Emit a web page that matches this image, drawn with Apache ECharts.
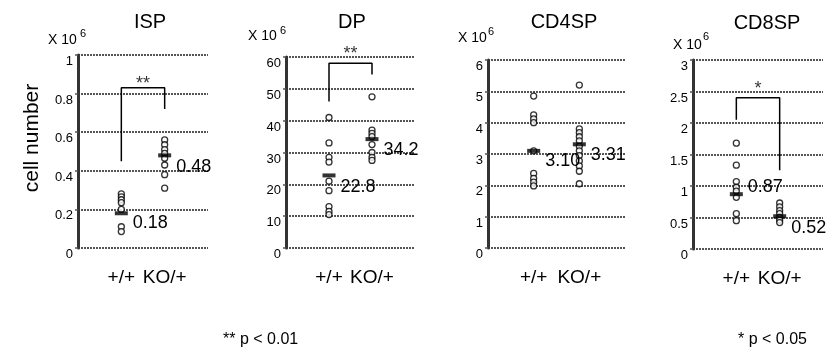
<!DOCTYPE html>
<html>
<head>
<meta charset="utf-8">
<script src="https://cdn.jsdelivr.net/npm/echarts@6/dist/echarts.min.js"></script>
<style>
  html, body { margin: 0; padding: 0; background: #fff; }
  #main { width: 833px; height: 356px; }
</style>
</head>
<body>
<div id="main"></div>
<script>
var chart = echarts.init(document.getElementById('main'));

// data
const groups = ['+/+', 'KO/+'];
const panels = ['ISP', 'DP', 'CD4SP', 'CD8SP'];

const ispWT = [0.28, 0.265, 0.25, 0.235, 0.2, 0.11, 0.085];
const ispKO = [0.56, 0.535, 0.51, 0.49, 0.465, 0.43, 0.38, 0.31];
const dpWT = [41, 33, 28.5, 27, 21, 18, 13, 11.5, 10.5];
const dpKO = [47.5, 37, 36, 35, 32.5, 30, 28.5, 27.5];
const cd4WT = [4.85, 4.25, 4.12, 4.0, 3.1, 2.38, 2.22, 2.1, 1.98];
const cd4KO = [5.2, 3.8, 3.68, 3.55, 3.42, 3.25, 3.1, 2.95, 2.78, 2.62, 2.45, 2.05];
const cd8WT = [1.68, 1.33, 1.07, 0.98, 0.92, 0.82, 0.56, 0.45];
const cd8KO = [0.73, 0.67, 0.61, 0.56, 0.5, 0.46, 0.42];

const ispMean = [0.18, 0.48];
const dpMean = [22.8, 34.2];
const cd4Mean = [3.10, 3.31];
const cd8Mean = [0.87, 0.52];
const meanDigits = [2, 1, 2, 2];

// bracket: [left bottom, top, right bottom]
const ispBracket = [0.45, 0.83, 0.72];
const dpBracket = [46, 58, 54.5];
const cd8Bracket = [2.05, 2.4, 1.25];
const stars = ['**', '**', '', '*'];

const yMax = [1, 60, 6, 3];
const yStep = [0.2, 10, 1, 0.5];

// layout
const wt = [ispWT, dpWT, cd4WT, cd8WT];
const ko = [ispKO, dpKO, cd4KO, cd8KO];
const means = [ispMean, dpMean, cd4Mean, cd8Mean];
const brackets = [ispBracket, dpBracket, null, cd8Bracket];
const gridBox = [
  { left: 78, top: 55, width: 130, height: 193 },
  { left: 286, top: 57, width: 129, height: 191 },
  { left: 488, top: 60, width: 137, height: 188 },
  { left: 693, top: 60, width: 130, height: 189 }
];
const meanOffsets = [[[0, 10], [0, 12]], [[0, 12], [0, 11]], [[0, 10], [0, 11]], [[0, -7], [0, 12]]];
const starOffsets = [[0, 5], [0, 0], [0, 0], [0, 0]];
const titlePos = [[150, 22], [352, 22], [564, 22], [767, 23]];
const unitPos = [[48, 40, 80, 34], [248, 36, 280, 31], [458, 38, 488, 32], [673, 45, 703, 37]];

const FONT = '"Liberation Sans", Arial, sans-serif';

var grids = [], xAxes = [], yAxes = [], series = [], graphics = [];

panels.forEach(function (name, i) {
  grids.push(Object.assign({ containLabel: false }, gridBox[i]));
  xAxes.push({
    type: 'value', gridIndex: i, min: 0, max: 3, interval: 1,
    axisLine: { show: false }, axisTick: { show: false }, splitLine: { show: false },
    axisLabel: {
      margin: 20, fontSize: 19, color: '#000', fontFamily: FONT,
      formatter: function (v) { return groups[v - 1] || ''; }
    }
  });
  yAxes.push({
    type: 'value', gridIndex: i, min: 0, max: yMax[i], interval: yStep[i],
    axisLine: { show: true, lineStyle: { color: '#333', width: 3 } },
    axisTick: { show: true, length: 3, lineStyle: { color: '#555', width: 1.5 } },
    axisLabel: { fontSize: 13, color: '#000', fontFamily: FONT, margin: 5, verticalAlign: 'top' },
    splitLine: { show: true, lineStyle: { color: '#555', width: 2, type: [2, 1] } }
  });

  series.push({
    type: 'scatter', xAxisIndex: i, yAxisIndex: i, z: 2,
    symbol: 'circle', symbolSize: 6,
    itemStyle: { color: '#fff', borderColor: '#000', borderWidth: 1.3 },
    data: wt[i].map(function (v) { return [1, v]; }).concat(ko[i].map(function (v) { return [2, v]; }))
  });

  series.push({
    type: 'scatter', xAxisIndex: i, yAxisIndex: i, z: 5,
    symbol: 'rect', symbolSize: [13, 4],
    itemStyle: { color: '#000' },
    label: {
      show: true, position: 'right', distance: 5, fontSize: 18, color: '#000', opacity: 1,
      textBorderWidth: 0, fontFamily: FONT,
      formatter: function (p) { return p.value[1].toFixed(meanDigits[i]); }
    },
    data: means[i].map(function (v, j) {
      return { value: [j + 1, v], label: { offset: meanOffsets[i][j] } };
    })
  });

  var b = brackets[i];
  if (b) {
    series.push({
      type: 'line', xAxisIndex: i, yAxisIndex: i, z: 1,
      showSymbol: false, symbol: 'none', silent: true,
      lineStyle: { color: '#000', width: 1.5 },
      data: [[1, b[0]], [1, b[1]], [2, b[1]], [2, b[2]]]
    });
    series.push({
      type: 'scatter', xAxisIndex: i, yAxisIndex: i, z: 4,
      symbolSize: 0,
      label: {
        show: true, position: 'top', distance: 0, offset: starOffsets[i],
        fontSize: 18, color: '#000', fontFamily: FONT,
        formatter: stars[i]
      },
      data: [[1.5, b[1]]]
    });
  }

  graphics.push({
    type: 'text', x: titlePos[i][0], y: titlePos[i][1],
    style: { text: name, font: '20px ' + FONT, fill: '#000', align: 'center', verticalAlign: 'middle' }
  });
  graphics.push({
    type: 'text', x: unitPos[i][0], y: unitPos[i][1],
    style: { text: 'X 10', font: '14px ' + FONT, fill: '#000', align: 'left', verticalAlign: 'middle' }
  });
  graphics.push({
    type: 'text', x: unitPos[i][2], y: unitPos[i][3],
    style: { text: '6', font: '11px ' + FONT, fill: '#000', align: 'left', verticalAlign: 'middle' }
  });
});

graphics.push({
  type: 'text', x: 32, y: 138, rotation: Math.PI / 2,
  style: { text: 'cell number', font: '21px ' + FONT, fill: '#000', align: 'center', verticalAlign: 'middle' }
});
graphics.push({
  type: 'text', x: 223, y: 340,
  style: { text: '** p < 0.01', font: '16px ' + FONT, fill: '#000', align: 'left', verticalAlign: 'middle' }
});
graphics.push({
  type: 'text', x: 738, y: 340,
  style: { text: '* p < 0.05', font: '16px ' + FONT, fill: '#000', align: 'left', verticalAlign: 'middle' }
});

chart.setOption({
  backgroundColor: '#fff',
  animation: false,
  grid: grids,
  xAxis: xAxes,
  yAxis: yAxes,
  series: series,
  graphic: graphics
});
</script>
</body>
</html>
